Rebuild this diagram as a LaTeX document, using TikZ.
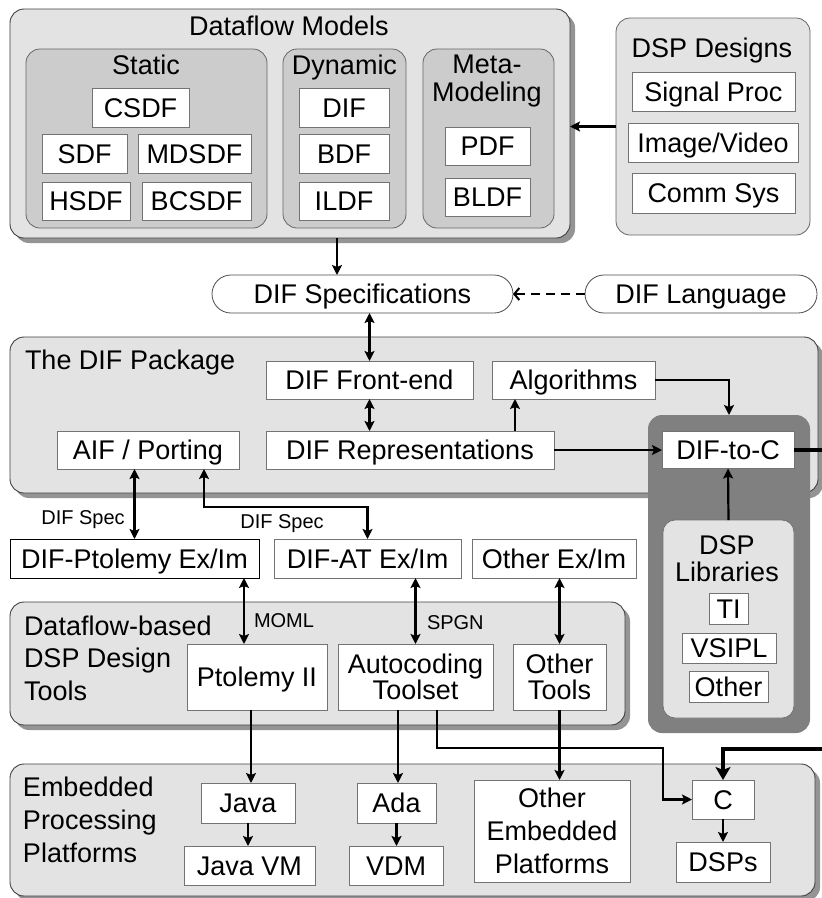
\documentclass[tikz,border=0pt]{standalone}
\usepackage{fontspec}
\setmainfont{Liberation Sans}
\usetikzlibrary{arrows.meta,shadows}
\begin{document}
\begin{tikzpicture}[x=1pt,y=-1pt,
  every node/.style={inner sep=0pt,outer sep=0pt},
  grp/.style={draw=black!75,line width=0.9pt,fill=black!11,rounded corners=14pt},
  shad/.style={drop shadow={shadow xshift=5pt,shadow yshift=-5pt,fill=black!42,opacity=1}},
  subgrp/.style={draw=black!60,line width=0.8pt,fill=black!20,rounded corners=14pt},
  darkgrp/.style={fill=black!50,rounded corners=14pt},
  bx/.style={draw=black!55,line width=0.8pt,fill=white,font=\fontsize{27}{27}\selectfont,align=center},
  one/.style={text height=19.5pt,text depth=0pt},
  pill/.style={draw=black!70,line width=0.8pt,fill=white,rounded corners=19pt,font=\fontsize{27}{27}\selectfont,text height=19.5pt,text depth=0pt},
  ttl/.style={font=\fontsize{27}{28}\selectfont,text height=19.5pt,text depth=0pt},
  lbl/.style={font=\fontsize{20}{22}\selectfont,text height=14.5pt,text depth=0pt},
  arr/.style={line width=2.2pt,-{Stealth[length=10pt,width=10pt,inset=2pt]}},
  darr/.style={line width=2.2pt,{Stealth[length=10pt,width=10pt,inset=2pt]}-{Stealth[length=10pt,width=10pt,inset=2pt]}},
  dasharr/.style={line width=2pt,dash pattern=on 9pt off 6pt,-{Straight Barb[length=5pt,width=12pt]}},
  heavy/.style={line width=4.5pt,-{Stealth[length=13pt,width=15pt,inset=3pt]}},
]
\useasboundingbox (0,0) rectangle (822,898);
\clip (0,0) rectangle (822,898);

% Dataflow models
\node[grp,shad,minimum width=560pt,minimum height=229pt] (dm) at (290,123.5) {};
\node[ttl] (dmt) at (289,26) {Dataflow Models};
\node[subgrp,minimum width=241pt,minimum height=179pt] (st) at (146.5,138.5) {};
\node[ttl] (stt) at (146,65) {Static};
\node[subgrp,minimum width=123pt,minimum height=179pt] (dy) at (344.5,138.5) {};
\node[ttl] (dyt) at (344.5,65) {Dynamic};
\node[subgrp,minimum width=131pt,minimum height=179pt] (mm) at (488.5,138.5) {};
\node[font=\fontsize{27}{28}\selectfont,align=center] (mmt) at (487,81.5) {Meta-\\Modeling};
\node[bx,one,minimum width=97pt,minimum height=39pt] (csdf) at (140.5,107.5) {CSDF};
\node[bx,one,minimum width=85pt,minimum height=39pt] (sdf) at (84.5,153.5) {SDF};
\node[bx,one,minimum width=113pt,minimum height=39pt] (mdsdf) at (194.5,153.5) {MDSDF};
\node[bx,one,minimum width=88pt,minimum height=38pt] (hsdf) at (86,201) {HSDF};
\node[bx,one,minimum width=109pt,minimum height=38pt] (bcsdf) at (196.5,201) {BCSDF};
\node[bx,one,minimum width=90pt,minimum height=39pt] (dif) at (344,107.5) {DIF};
\node[bx,one,minimum width=90pt,minimum height=39pt] (bdf) at (344,153.5) {BDF};
\node[bx,one,minimum width=90pt,minimum height=38pt] (ildf) at (344,201) {ILDF};
\node[bx,one,minimum width=85pt,minimum height=38pt] (pdf) at (487.5,146) {PDF};
\node[bx,one,minimum width=85pt,minimum height=38pt] (bldf) at (487.5,197) {BLDF};

% DSP designs
\node[draw=black!60,line width=0.8pt,fill=black!11,rounded corners=14pt,minimum width=194pt,minimum height=217pt] (dd) at (713,126.5) {};
\node[ttl] (ddt) at (712,48) {DSP Designs};
\node[bx,one,minimum width=163pt,minimum height=39pt] (sp) at (713.5,91.5) {Signal Proc};
\node[bx,one,minimum width=170pt,minimum height=39pt] (iv) at (713,142.5) {Image/Video};
\node[bx,one,minimum width=163pt,minimum height=40pt] (cs) at (713.5,193) {Comm Sys};

% Specifications
\node[pill,minimum width=301pt,minimum height=38pt] (specs) at (362.5,294) {DIF Specifications};
\node[pill,minimum width=232pt,minimum height=38pt] (lang) at (701,294) {DIF Language};

% DIF package
\node[grp,shad,minimum width=808pt,minimum height=156pt] (pkg) at (414,415) {};
\node[ttl,anchor=west] (pkgt) at (25,360) {The DIF Package};
\node[bx,one,minimum width=207pt,minimum height=38pt] (fe) at (369.5,380) {DIF Front-end};
\node[bx,one,minimum width=163pt,minimum height=38pt] (alg) at (573.5,380) {Algorithms};
\node[bx,one,minimum width=288pt,minimum height=38pt] (rep) at (410,450) {DIF Representations};
\node[bx,one,minimum width=182pt,minimum height=38pt] (aif) at (148,450) {AIF / Porting};

% DIF-to-C group
\node[darkgrp,minimum width=162pt,minimum height=318pt] (dark) at (729,574) {};
\node[bx,one,minimum width=132pt,minimum height=37pt] (d2c) at (728,450) {DIF-to-C};
\node[draw=black!55,line width=0.8pt,fill=black!11,rounded corners=12pt,minimum width=131pt,minimum height=198pt] (libs) at (728.5,619) {};
\node[font=\fontsize{27}{27}\selectfont,align=center] (libst) at (727,559) {DSP\\Libraries};
\node[bx,one,minimum width=39pt,minimum height=31pt] (ti) at (728.5,608.5) {TI};
\node[bx,one,minimum width=94pt,minimum height=30pt] (vsipl) at (729,648) {VSIPL};
\node[bx,one,minimum width=79pt,minimum height=31pt] (oth) at (728.5,686.5) {Other};

% Ex/Im
\node[bx,one,draw=black,minimum width=249pt,minimum height=39pt] (ptex) at (134.5,558.5) {DIF-Ptolemy Ex/Im};
\node[bx,one,minimum width=187pt,minimum height=39pt] (atex) at (367.5,558.5) {DIF-AT Ex/Im};
\node[bx,one,minimum width=164pt,minimum height=39pt] (oex) at (554,558.5) {Other Ex/Im};

% Tools
\node[grp,shad,minimum width=615pt,minimum height=123pt] (tools) at (317.5,663.5) {};
\node[font=\fontsize{27}{32.5}\selectfont,align=left,anchor=west] (toolst) at (24,658) {Dataflow-based\\DSP Design\\Tools};
\node[bx,one,minimum width=140pt,minimum height=66pt] (ptol) at (257,677) {Ptolemy II};
\node[bx,font=\fontsize{27}{26}\selectfont,minimum width=155pt,minimum height=66pt] (auto) at (415.5,677) {Autocoding\\Toolset};
\node[bx,font=\fontsize{27}{26}\selectfont,minimum width=93pt,minimum height=66pt] (otools) at (559.5,677) {Other\\Tools};

% Embedded
\node[grp,shad,minimum width=805pt,minimum height=132pt] (emb) at (412.5,830) {};
\node[font=\fontsize{27}{33}\selectfont,align=left,anchor=west] (embt) at (23,820) {Embedded\\Processing\\Platforms};
\node[bx,one,minimum width=94pt,minimum height=40pt] (java) at (248,803) {Java};
\node[bx,one,minimum width=131pt,minimum height=39pt] (jvm) at (249.5,865.5) {Java VM};
\node[bx,one,minimum width=79pt,minimum height=40pt] (ada) at (396.5,803) {Ada};
\node[bx,one,minimum width=94pt,minimum height=39pt] (vdm) at (396,865.5) {VDM};
\node[bx,font=\fontsize{27}{33}\selectfont,minimum width=156pt,minimum height=102pt] (oemb) at (552,831) {Other\\Embedded\\Platforms};
\node[bx,one,minimum width=62pt,minimum height=39pt] (cc) at (723,799.5) {C};
\node[bx,one,minimum width=94pt,minimum height=40pt] (dsps) at (723,862) {DSPs};

% labels
\node[lbl] (l1) at (83,517) {DIF Spec};
\node[lbl] (l2) at (282,521) {DIF Spec};
\node[lbl,anchor=west] (l3) at (254,620) {MOML};
\node[lbl,anchor=west] (l4) at (427,622) {SPGN};

\coordinate (offr) at (840,749);
\coordinate (bend) at (663,748);

% connectors
\draw[arr] (dd.west) -- (dd.west -| dm.east);
\draw[arr] ([xshift=47pt]dm.south) -- ([xshift=47pt]dm.south |- specs.north);
\draw[dasharr] (lang.west) -- (specs.east);
\draw[darr] (fe.north |- specs.south) -- (fe.north);
\draw[darr] (fe.south) -- (fe.south |- rep.north);
\draw[arr] ([xshift=105pt]rep.north) -- ([xshift=105pt]rep.north |- alg.south);
\draw[arr] (alg.east) -| (dark.north);
\draw[arr] (rep.east) -- (d2c.west);
\draw[arr] (libs.north) -- (d2c.south);
\draw[heavy] (d2c.east) -| (offr) -| (cc.north);
\draw[darr] (ptex.north) -- (ptex.north |- aif.south);
\draw[darr] ([xshift=56pt]aif.south) -- ++(0,38) -| (atex.north);
\draw[darr] ([xshift=-13pt]ptol.north) -- ([xshift=-13pt]ptol.north |- ptex.south);
\draw[darr] (auto.north) -- (auto.north |- atex.south);
\draw[darr] (otools.north) -- (otools.north |- oex.south);
\draw[arr] ([xshift=-6pt]ptol.south) -- ([xshift=-6pt]ptol.south |- java.north);
\draw[arr] ([xshift=-17.5pt]auto.south) -- ([xshift=-17.5pt]auto.south |- ada.north);
\draw[arr] ([xshift=21.5pt]auto.south) |- (bend) |- (cc.west);
\draw[arr] (otools.south) -- (otools.south |- oemb.north);
\draw[arr] (java.south) -- (java.south |- jvm.north);
\draw[arr] (ada.south) -- (ada.south |- vdm.north);
\draw[arr] (cc.south) -- (cc.south |- dsps.north);
\end{tikzpicture}
\end{document}
